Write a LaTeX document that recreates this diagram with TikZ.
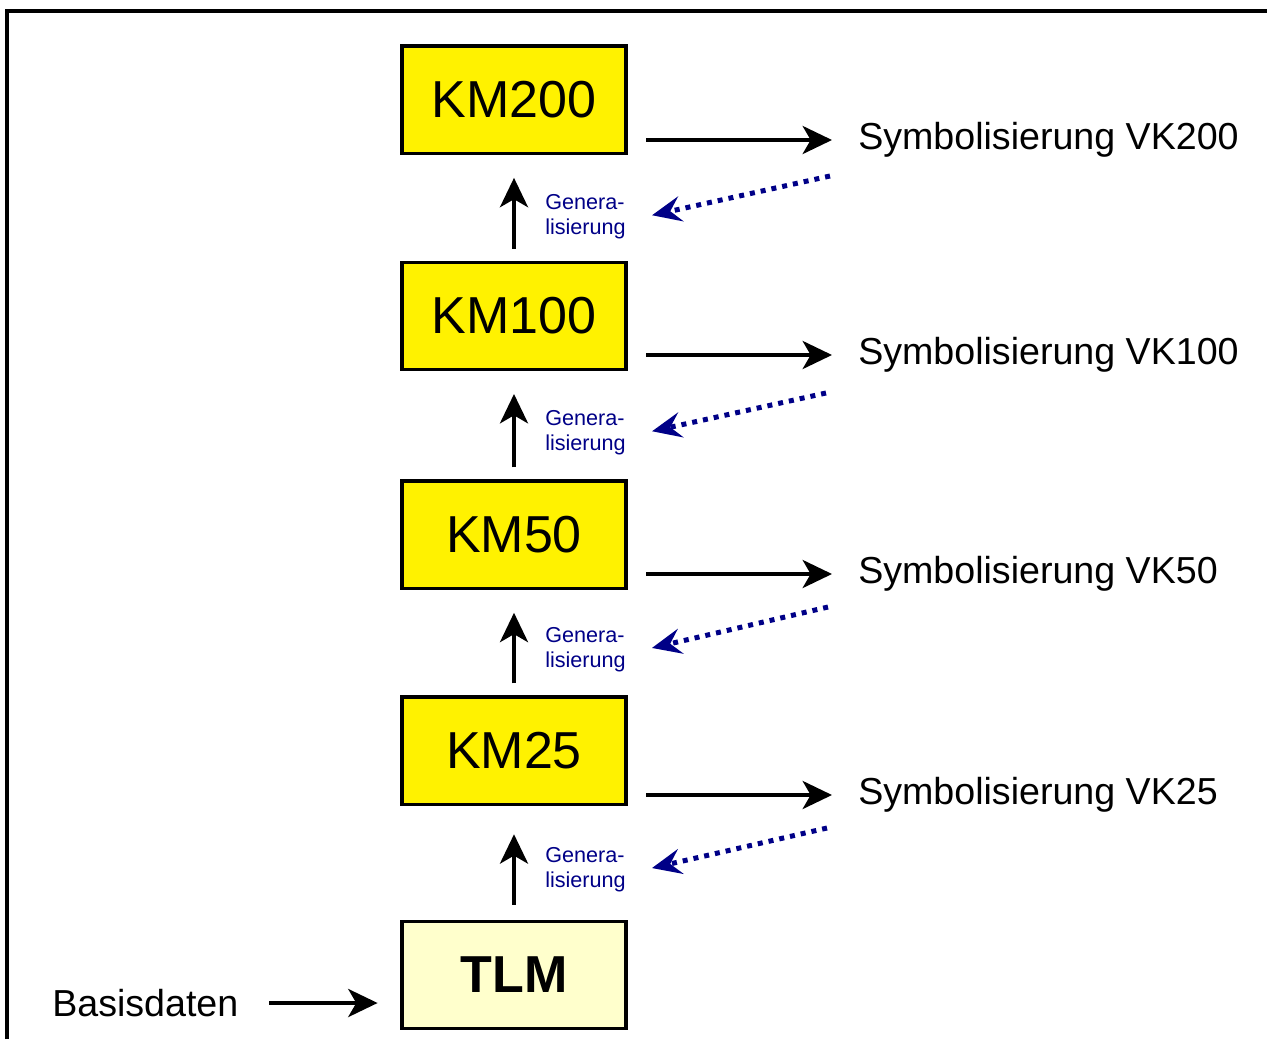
\documentclass[tikz,border=0pt]{standalone}
\usepackage{fontspec}
\setmainfont{Liberation Sans}
\usetikzlibrary{arrows.meta,positioning}
\definecolor{genblue}{RGB}{0,0,135}
\definecolor{tlmyellow}{RGB}{255,255,204}

\begin{document}
\begin{tikzpicture}[x=0.75pt,y=-0.75pt,node distance=80pt,
    >={Stealth[length=22pt,width=21pt,inset=6pt]}]
  \tikzstyle{every node}=[font=\fontsize{28.2}{34}\selectfont]
  \tikzstyle{kmbox}=[draw,line width=2.6pt,fill=yellow,minimum width=168pt,minimum height=80.5pt,font=\fontsize{39}{47}\selectfont]
  \tikzstyle{symlabel}=[inner sep=0pt,anchor=west]
  \tikzstyle{genlabel}=[inner sep=0pt,anchor=west,align=left,text=genblue,font=\fontsize{16.2}{18.75}\selectfont]
  \tikzstyle{flow}=[->,line width=3pt]
  \tikzstyle{genarrow}=[-{Stealth[length=22pt,width=19pt,inset=8pt]},genblue,line width=3.75pt,dash pattern=on 3.75pt off 4.5pt,shorten >=20pt]

  \useasboundingbox (0,0) rectangle (1267,1039);
  \draw[line width=3pt] (6.5,1039) -- (6.5,11) -- (1267,11);

  \node[kmbox,fill=tlmyellow,font=\fontsize{39}{47}\selectfont\bfseries] (tlm) at (514,975) {TLM};
  \node[kmbox] (km25)  [above=85pt of tlm]  {KM25};
  \node[kmbox] (km50)  [above=79pt of km25] {KM50};
  \node[kmbox] (km100) [above=81pt of km50] {KM100};
  \node[kmbox] (km200) [above=79pt of km100] {KM200};

  \node[symlabel] (sym200) at (858,140) {Symbolisierung VK200};
  \node[symlabel] (sym100) at (858,355) {Symbolisierung VK100};
  \node[symlabel] (sym50)  at (858,574) {Symbolisierung VK50};
  \node[symlabel] (sym25)  at (858,795) {Symbolisierung VK25};

  \node[genlabel] (gen200) at (545,217) {Genera-\\lisierung};
  \node[genlabel] (gen100) at (545,433) {Genera-\\lisierung};
  \node[genlabel] (gen50)  at (545,650) {Genera-\\lisierung};
  \node[genlabel] (gen25)  at (545,870) {Genera-\\lisierung};

  \node[inner sep=0pt,anchor=west] (basis) at (52,1003) {Basisdaten};

  \coordinate (gs200) at (830,176);
  \coordinate (gs100) at (826,393);
  \coordinate (gs50)  at (828,607);
  \coordinate (gs25)  at (827,828);

\path[flow]
(tlm) edge [shorten <=11pt,shorten >=21pt] (km25)
(km25) edge [shorten <=9pt,shorten >=17pt] (km50)
(km50) edge [shorten <=9pt,shorten >=17pt] (km100)
(km100) edge [shorten <=9pt,shorten >=17pt] (km200)
(km200.east |- sym200.west) edge [shorten <=14pt,shorten >=19.5pt] (sym200.west)
(km100.east |- sym100.west) edge [shorten <=14pt,shorten >=19.5pt] (sym100.west)
(km50.east |- sym50.west) edge [shorten <=14pt,shorten >=19.5pt] (sym50.west)
(km25.east |- sym25.west) edge [shorten <=14pt,shorten >=19.5pt] (sym25.west)
(basis) edge [shorten <=23pt,shorten >=17pt] (tlm.west |- basis);

\path[genarrow]
(gs200) edge ([yshift=-3pt]gen200.east)
(gs100) edge ([yshift=-3pt]gen100.east)
(gs50) edge ([yshift=-3pt]gen50.east)
(gs25) edge ([yshift=-3pt]gen25.east);
\end{tikzpicture}
\end{document}
